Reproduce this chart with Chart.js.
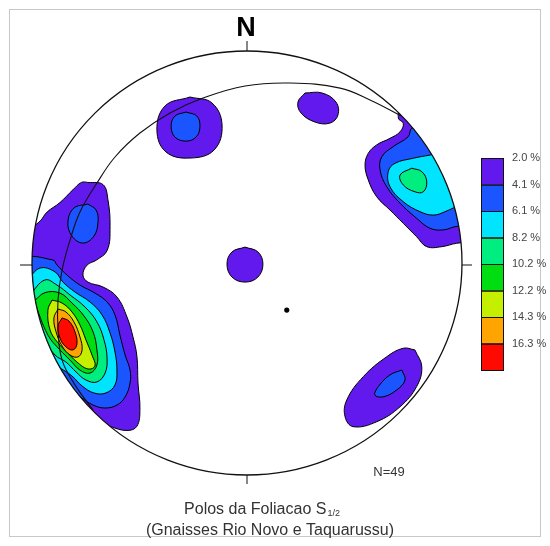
<!DOCTYPE html>
<html>
<head>
<meta charset="utf-8">
<script src="https://cdn.jsdelivr.net/npm/chart.js@4.4.0/dist/chart.umd.min.js"></script>
<style>
  html, body { margin: 0; padding: 0; background: #fff; }
</style>
</head>
<body>
<canvas id="net" width="550" height="546"></canvas>
<script>
// contour intervals (density, %) and their fill colours
const levelLabels = ['2.0 %', '4.1 %', '6.1 %', '8.2 %', '10.2 %', '12.2 %', '14.3 %', '16.3 %'];
const levelColors = ['#6119ee', '#1a55ff', '#00e4ff', '#00ee80', '#00dd10', '#c4f000', '#ffa400', '#ff0a00'];

// contour outlines in net units (percent of primitive radius, x = east, y = north)
const westL1 = [[-105,0],[-100,16],[-96,20],[-93,24],[-87,28.5],[-81,34.5],[-77,38],[-74,38],[-67,37],[-64.7,30],[-63.7,17],[-65,6],[-70,1.4],[-74.4,-1],[-76.3,-5.7],[-74,-9],[-67,-11.3],[-60.5,-16],[-55.8,-25.5],[-53,-35],[-51.2,-44],[-50.7,-56.6],[-49.8,-69],[-51.2,-77],[-55.8,-79],[-63.7,-77],[-72,-73],[-85,-62],[-100,-35],[-105,0]];
const westL2a = [[-74,27.8],[-70.2,25],[-69.3,19.3],[-71.2,12.7],[-76.3,9.4],[-81.4,12.7],[-83.3,19.3],[-80.5,25.9],[-74,27.8]];
const westL2b = [[-106,-10],[-104,2],[-90.2,1.4],[-88.4,-0.9],[-83.7,-5.7],[-77.7,-10.4],[-70.7,-14.2],[-65.1,-18.4],[-61.4,-24.5],[-59.1,-34],[-56.7,-43.4],[-54.4,-50.5],[-54.4,-56.6],[-56.7,-63.2],[-60.5,-67],[-66,-68.4],[-71.6,-67],[-77.7,-63.2],[-88,-58],[-102,-38],[-106,-10]];
const westL3 = [[-102,-8],[-96.3,-2.4],[-89.3,-4.2],[-85.6,-9],[-80,-13.7],[-73,-18.4],[-67.4,-24.5],[-63.7,-33],[-61.4,-42],[-60.5,-50.5],[-61.4,-57.5],[-65.6,-61.3],[-71.2,-61.3],[-76.7,-58],[-81.4,-53.3],[-87,-49.5],[-94,-45.8],[-101,-27],[-102,-8]];
const westL4 = [[-101,-15],[-94,-8],[-88.4,-10.4],[-82.3,-15.1],[-75.3,-20.8],[-69.8,-27.8],[-66.5,-36.3],[-65.1,-44.8],[-66,-51.9],[-69.8,-56.1],[-74.9,-55.2],[-79.5,-51.4],[-84.2,-46.7],[-89.3,-43.4],[-97,-32],[-101,-15]];
const westL5 = [[-99,-18],[-94,-14],[-87,-14.2],[-81.4,-18.9],[-75.8,-25],[-71.6,-32.5],[-69.8,-41],[-69.8,-48.1],[-73,-51.9],[-77.7,-50.5],[-82.3,-45.8],[-87,-41],[-92.6,-34],[-99,-18]];
const westL6 = [[-90.7,-17.5],[-86,-18.9],[-81.4,-23.1],[-77.7,-29.2],[-74.9,-36.3],[-72.1,-43.4],[-70.7,-48.6],[-74,-50],[-79.1,-46.7],[-83.7,-42],[-87.9,-37.7],[-91.6,-31.6],[-92.6,-22.2],[-90.7,-17.5]];
const westL7 = [[-87.9,-21.7],[-84.2,-23.1],[-80.5,-27.8],[-77.7,-34.9],[-76.7,-41],[-78.6,-44.3],[-82.3,-43.4],[-86,-39.2],[-88.8,-32.5],[-89.8,-25.9],[-87.9,-21.7]];
const westL8 = [[-86,-25.9],[-82.8,-27.4],[-80,-32.5],[-79.1,-38.2],[-80.9,-41],[-84.2,-39.6],[-87,-35.4],[-87.9,-29.7],[-86,-25.9]];
const northL1 = [[-26.5,78.3],[-16.3,75.5],[-11.6,65.1],[-15.3,53.3],[-26.5,49.5],[-37.7,52.4],[-41.9,62.7],[-38.1,74.1],[-26.5,78.3]];
const northL2 = [[-28.4,71.2],[-23.3,69.3],[-21.9,64.2],[-23.7,59.4],[-28.4,57.5],[-33.5,59.4],[-35.3,64.6],[-33.5,69.3],[-28.4,71.2]];
const nneL1 = [[27,80.2],[34.9,80.2],[41.4,75.9],[42.3,69.8],[38.6,66],[31.6,66.5],[25.1,70.8],[23.7,75.9],[27,80.2]];
const centreL1 = [[-0.9,7.5],[5.1,5.2],[7.4,-0.5],[5.1,-6.6],[-0.9,-9],[-7,-6.6],[-9.3,-0.5],[-7,5.2],[-0.9,7.5]];
const seL1 = [[78.1,-41],[81.3,-48.9],[78.9,-58.3],[71.2,-67.8],[60.3,-74.9],[49.4,-77.2],[45.6,-72.5],[46.4,-64.6],[54.1,-53.6],[65,-44.2],[72.7,-40.2],[78.1,-41]];
const seL2 = [[72,-50.5],[73.5,-55.2],[69.6,-59.9],[63.4,-63.1],[59.5,-62.3],[61.1,-58.3],[66.5,-52.8],[72,-50.5]];
const neL1 = [[106,10],[97.5,9.3],[90.6,7.7],[83.6,7.7],[78.9,12.4],[72.7,18.7],[66.5,25],[60.3,31.3],[56.4,39.2],[54.9,46.2],[56.4,51.7],[60.3,55.7],[66.5,58.8],[71.2,61.9],[72.7,65.9],[70.4,68.3],[72,74],[85,70],[104,40],[106,10]];
const neL2 = [[104,18],[96.7,17.1],[91.3,15.6],[85.1,16.4],[78.9,21.1],[71.2,28.2],[65,36],[61.9,43.9],[62.7,50.1],[68,54.9],[75,59.6],[76.6,63.5],[82,64],[100,45],[104,18]];
const neL3 = [[100,28],[92.1,24.2],[86.7,22.6],[80.5,24.2],[72.7,28.9],[66.5,36],[65.7,43.1],[68.8,47],[77.3,49.4],[85.1,50.9],[92,52],[100,48],[100,28]];
const neL4 = [[76.6,44.7],[81.3,43.1],[83.6,38.3],[82,33.6],[78.1,33.6],[72.7,36.8],[71.2,41.5],[76.6,44.7]];

// great circle traced on the net, and the single plotted pole
const greatCircle = [[71.5,69.5],[57.2,76.9],[43.3,82.5],[20,84.9],[-0.9,83.5],[-20.5,77.8],[-35.8,70.8],[-49.8,61.3],[-61.4,50],[-69.8,37.7],[-77.7,24.1],[-82.3,10.8],[-86,-3.3],[-87.9,-17.5],[-87.9,-31.6],[-86,-45.8],[-80,-57.5],[-71.5,-69.5]];
const poleMark = [[18.5,-22.2]];

const contourList = [
  [westL1, 0], [westL2a, 1], [westL2b, 1], [westL3, 2], [westL4, 3], [westL5, 4], [westL6, 5], [westL7, 6], [westL8, 7],
  [northL1, 0], [northL2, 1], [nneL1, 0], [centreL1, 0],
  [seL1, 0], [seL2, 1],
  [neL1, 0], [neL2, 1], [neL3, 2], [neL4, 3]
];

const toXY = pts => pts.map(([x, y]) => ({ x, y }));

const datasets = contourList.map(([pts, lvl]) => ({
  data: toXY(pts),
  backgroundColor: levelColors[lvl],
  borderColor: '#000',
  borderWidth: 1,
  fill: 'shape',
  tension: 0.4,
  capBezierPoints: false,
  pointRadius: 0
}));
datasets.push({
  data: toXY(greatCircle),
  borderColor: '#111',
  borderWidth: 1.1,
  fill: false,
  tension: 0.4,
  capBezierPoints: false,
  pointRadius: 0
});
datasets.push({
  data: toXY(poleMark),
  showLine: false,
  pointRadius: 2.6,
  pointBackgroundColor: '#000',
  pointBorderWidth: 0
});
datasets.forEach((d, i) => { d.order = datasets.length - i; });

const netFrame = {
  id: 'netFrame',
  beforeDatasetsDraw(chart) {
    const { ctx, scales: { x, y } } = chart;
    const cx = x.getPixelForValue(0), cy = y.getPixelForValue(0);
    ctx.save();
    ctx.beginPath();
    ctx.ellipse(cx, cy, x.getPixelForValue(100) - cx, cy - y.getPixelForValue(100), 0, 0, Math.PI * 2);
    ctx.clip();
  },
  afterDatasetsDraw(chart) {
    const { ctx, scales: { x, y } } = chart;
    ctx.restore();
    const cx = x.getPixelForValue(0), cy = y.getPixelForValue(0);
    const rx = x.getPixelForValue(100) - cx, ry = cy - y.getPixelForValue(100);
    ctx.save();
    ctx.strokeStyle = '#111';
    ctx.lineWidth = 1.3;
    ctx.beginPath();
    ctx.ellipse(cx, cy, rx, ry, 0, 0, Math.PI * 2);
    ctx.stroke();
    // N, S, W, E ticks
    ctx.lineWidth = 1;
    ctx.beginPath();
    ctx.moveTo(cx, cy - ry); ctx.lineTo(cx, cy - ry - 10);
    ctx.moveTo(cx, cy + ry); ctx.lineTo(cx, cy + ry + 9);
    ctx.moveTo(cx - rx, cy + 2); ctx.lineTo(cx - rx - 12, cy + 2);
    ctx.moveTo(cx + rx, cy + 2); ctx.lineTo(cx + rx + 10, cy + 2);
    ctx.stroke();
    ctx.restore();
  },
  afterDraw(chart) {
    const { ctx, scales: { x, y } } = chart;
    const cx = x.getPixelForValue(0), top = y.getPixelForValue(100);
    ctx.save();
    // outer frame
    ctx.strokeStyle = '#c8c8c8';
    ctx.lineWidth = 1;
    ctx.strokeRect(9.5, 9.5, 531, 527);

    ctx.fillStyle = '#000';
    ctx.textAlign = 'center';
    ctx.textBaseline = 'middle';
    ctx.font = 'bold 27px "Liberation Sans", Arial, sans-serif';
    ctx.fillText('N', cx - 1, top - 22);

    ctx.fillStyle = '#333';
    ctx.font = '13px "Liberation Sans", Arial, sans-serif';
    ctx.fillText('N=49', 389, 472);

    // caption
    const main = 'Polos da Foliacao S';
    ctx.font = '9px "Liberation Sans", Arial, sans-serif';
    const subW = ctx.measureText('1/2').width;
    ctx.font = '16px "Liberation Sans", Arial, sans-serif';
    const mainW = ctx.measureText(main).width;
    const x0 = 262 - (mainW + subW + 1) / 2;
    ctx.textAlign = 'left';
    ctx.fillText(main, x0, 510);
    ctx.font = '9px "Liberation Sans", Arial, sans-serif';
    ctx.fillText('1/2', x0 + mainW + 1, 514);
    ctx.font = '16px "Liberation Sans", Arial, sans-serif';
    ctx.textAlign = 'center';
    ctx.fillText('(Gnaisses Rio Novo e Taquarussu)', 270, 531);

    // colour scale
    const bx = 481, bw = 22, by = 158, bh = 26.5;
    levelColors.forEach((c, i) => {
      ctx.fillStyle = c;
      ctx.fillRect(bx, by + i * bh, bw, bh);
    });
    ctx.strokeStyle = '#111';
    ctx.lineWidth = 1;
    levelColors.forEach((c, i) => {
      ctx.strokeRect(bx + 0.5, by + i * bh + 0.5, bw, bh);
    });
    ctx.fillStyle = '#444';
    ctx.font = '11px "Liberation Sans", Arial, sans-serif';
    ctx.textAlign = 'left';
    levelLabels.forEach((t, i) => ctx.fillText(t, 512, by + i * bh));
    ctx.restore();
  }
};

new Chart(document.getElementById('net').getContext('2d'), {
  type: 'line',
  data: { datasets },
  options: {
    responsive: false,
    animation: false,
    layout: { padding: { left: 32, right: 88, top: 51, bottom: 71 } },
    scales: {
      x: { type: 'linear', min: -100, max: 100, display: false },
      y: { type: 'linear', min: -100, max: 100, display: false }
    },
    plugins: {
      legend: { display: false },
      tooltip: { enabled: false }
    }
  },
  plugins: [netFrame]
});
</script>
</body>
</html>
